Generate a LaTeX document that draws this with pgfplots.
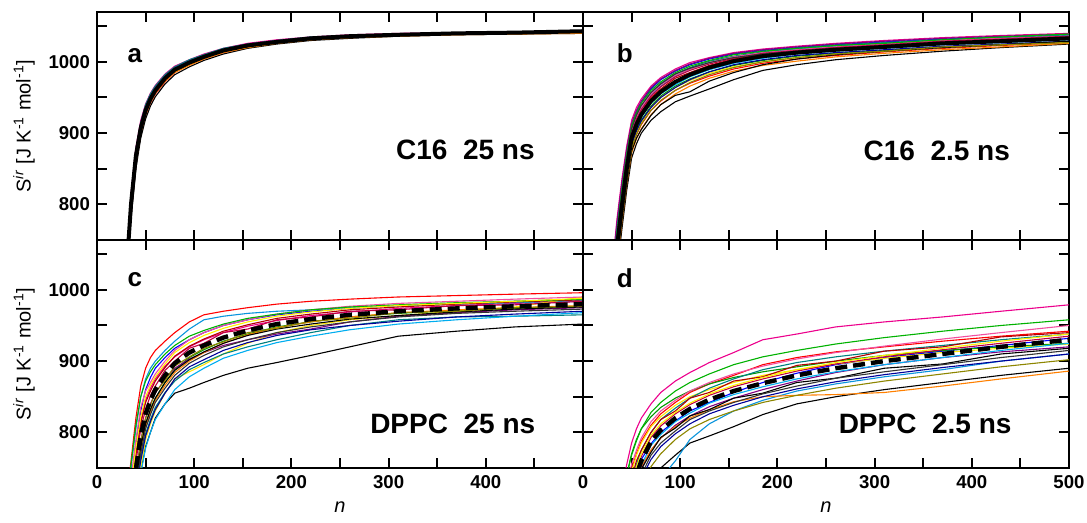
\documentclass[border=0pt]{standalone}
\usepackage{fontspec}
\setmainfont{Liberation Sans}
\usepackage{pgfplots}
\usepackage{pgfplotstable}
\pgfplotsset{compat=1.18}
\usepgfplotslibrary{groupplots}

% panel a: C16 25 ns
\pgfplotstableread{
n   m    c1   c2   c3   c4   c5   c6   c7   c8   c9   c10
30  700  690  705  695  710  685  700  698  703  692  707
35  800  785  810  795  815  780  805  798  808  790  812
40  868  855  875  862  880  850  870  865  874  858  878
45  907  898  914  902  918  893  909  905  912  900  915
50  932  925  938  928  941  920  934  930  937  926  940
55  948  942  953  945  956  938  950  946  952  943  955
60  960  955  965  957  967  951  962  958  964  956  966
70  977  972  981  974  983  969  978  975  980  973  982
80  989  985  992  986  994  982  990  987  991  985  993
95  999  996  1002 997  1003 993  1000 998  1001 995  1003
110 1007 1004 1010 1005 1011 1002 1008 1006 1009 1004 1010
130 1016 1013 1018 1014 1019 1011 1016 1015 1018 1013 1019
155 1023 1020 1025 1021 1026 1019 1023 1022 1025 1020 1025
185 1028 1026 1030 1027 1031 1025 1029 1027 1030 1026 1030
220 1033 1031 1034 1032 1035 1030 1033 1032 1034 1031 1035
260 1036 1034 1037 1035 1038 1033 1036 1035 1037 1034 1037
310 1038 1037 1039 1037 1040 1036 1038 1038 1039 1036 1039
370 1040 1039 1041 1039 1041 1038 1040 1040 1041 1038 1041
430 1041 1040 1042 1040 1042 1039 1041 1041 1042 1039 1042
500 1043 1042 1044 1041 1044 1040 1043 1042 1044 1040 1044
}\tabA

% panel b: C16 2.5 ns
\pgfplotstableread{
n   m    c1   c2   c3   c4   c5   c6   c7   c8   c9   c10
30  680  660  700  670  710  650  690  675  705  665  695
35  740  720  770  735  780  705  760  730  775  715  765
40  797  780  825  790  835  765  815  785  830  775  820
45  850  832  875  845  882  820  865  838  878  828  870
50  893  878  910  888  918  865  902  882  914  872  906
55  912  898  930  905  936  885  920  900  932  892  925
60  926  912  943  918  948  900  934  915  945  906  938
70  945  932  962  938  966  918  954  936  964  926  957
80  958  945  975  952  978  930  966  950  976  940  970
95  972  960  987  966  990  944  980  964  988  955  983
110 982  970  996  976  999  952  990  974  997  966  992
130 992  980  1004 986  1006 962  999  984  1005 977  1001
155 1001 990  1011 995  1013 975  1007 993  1012 987  1008
185 1008 998  1016 1002 1018 988  1013 1000 1017 995  1014
220 1013 1004 1020 1008 1022 996  1018 1006 1021 1001 1019
260 1017 1009 1024 1012 1026 1003 1022 1011 1025 1007 1023
310 1021 1014 1028 1016 1030 1009 1026 1015 1029 1012 1027
370 1026 1019 1032 1021 1034 1015 1030 1020 1033 1017 1031
430 1029 1023 1035 1024 1037 1020 1033 1024 1036 1021 1034
500 1033 1027 1039 1028 1040 1025 1037 1028 1039 1026 1038
}\tabB

\pgfplotstableread{
n   c1   c2   c3   c4   c5   c6   c7   c8   c9   c10
30  695  672  688  665  700  678  690  668  682  698
35  755  730  746  722  760  737  750  726  742  757
40  812  787  803  778  820  793  808  782  799  815
45  862  840  856  830  870  846  858  835  853  866
50  903  884  898  875  910  890  900  879  892  906
55  922  903  918  893  928  908  919  898  914  925
60  936  917  930  905  942  922  933  913  925  939
70  955  936  950  925  960  942  952  932  947  957
80  968  950  962  940  972  955  965  946  957  969
95  981  964  977  953  985  968  979  960  973  983
110 990  975  985  958  994  979  988  971  981  991
130 999  986  995  973  1002 989  997  982  993  999
155 1007 996  1004 985  1010 998  1005 992  1000 1006
185 1013 1003 1011 996  1015 1005 1012 1000 1009 1011
220 1017 1009 1015 1004 1019 1011 1016 1006 1012 1015
260 1021 1013 1020 1010 1023 1015 1020 1011 1018 1019
310 1025 1017 1023 1015 1026 1019 1024 1015 1020 1022
370 1030 1022 1028 1020 1031 1024 1029 1021 1027 1027
430 1033 1025 1031 1024 1035 1027 1032 1024 1028 1030
500 1036 1029 1035 1029 1039 1031 1036 1027 1034 1034
}\tabBB

% panel c: DPPC 25 ns
\pgfplotstableread{
n   m    c1   c2   c3   c4   c5   c6   c7   c8   c9   c10
30  650  700  670  640  660  600  690  620  645  635  630
35  700  760  725  690  715  650  750  665  695  685  675
40  748  820  780  735  770  700  805  710  742  730  720
45  795  865  830  780  815  745  850  750  788  775  765
50  826  890  860  812  845  780  875  790  820  808  798
55  845  905  877  832  862  800  890  812  840  828  818
60  860  915  890  848  875  820  900  830  855  845  835
70  880  928  905  870  893  840  915  855  875  866  856
80  897  940  918  888  906  855  928  875  890  884  872
95  912  955  930  905  920  862  945  885  903  900  888
110 922  965  940  916  930  870  958  895  912  912  898
130 933  970  950  928  940  880  963  910  922  925  910
155 943  975  958  938  949  890  967  925  930  937  920
185 952  980  965  948  957  898  970  940  938  947  930
220 959  984  970  955  964  908  972  950  945  955  940
260 965  987  974  962  969  920  975  958  955  962  950
310 970  990  978  967  974  935  978  964  963  968  958
370 974  992  981  971  978  942  980  970  968  972  962
430 977  994  984  974  981  948  982  976  972  975  963
500 980  996  987  977  984  952  985  990  975  978  965
}\tabC

\pgfplotstableread{
n   c1   c2   c3   c4   c5   c6   c7   c8   c9   c10
30  680  620  665  640  700  610  655  645  672  630
35  735  670  718  688  755  655  708  694  725  680
40  790  715  768  735  810  700  758  740  778  725
45  835  760  812  780  850  742  805  788  822  770
50  858  795  842  812  872  778  832  820  850  805
55  870  815  858  832  885  800  852  838  866  825
60  882  832  872  848  895  818  865  856  878  842
70  900  855  891  870  910  840  887  873  896  862
80  915  875  907  887  922  860  900  893  912  880
95  930  892  921  902  935  878  918  906  926  897
110 940  902  931  913  943  890  925  918  936  908
130 950  915  942  925  952  904  940  927  946  920
155 958  926  951  936  960  915  945  940  955  930
185 966  936  960  945  966  926  958  946  963  940
220 972  944  966  952  972  935  962  956  969  948
260 977  950  972  959  976  944  970  960  974  955
310 981  956  976  964  979  952  972  968  978  962
370 984  962  980  969  982  958  978  970  981  967
430 987  966  983  973  984  963  979  975  984  970
500 990  970  986  976  987  968  984  977  988  973
}\tabCC

% panel d: DPPC 2.5 ns
\pgfplotstableread{
n   m    c1   c2   c3   c4   c5   c6   c7   c8   c9   c10
30  600  620  605  630  640  560  560  615  595  600  610
35  630  655  635  670  680  590  585  650  625  630  642
40  660  690  665  708  720  620  610  685  655  660  675
45  690  722  695  740  755  650  635  718  685  690  706
50  715  748  722  770  785  675  655  745  710  712  732
55  740  770  745  790  805  695  672  768  732  735  755
60  760  788  762  805  820  712  690  785  750  752  775
70  787  810  784  822  840  735  715  808  775  775  800
80  803  826  800  835  856  750  735  822  792  792  818
95  820  842  816  848  872  768  760  838  810  808  834
110 833  856  830  858  884  785  790  850  823  820  848
130 846  868  842  868  898  795  812  860  836  832  862
155 858  880  856  877  912  808  830  870  848  843  875
185 869  895  870  885  930  825  845  880  860  850  888
220 880  905  883  892  938  840  858  888  872  852  898
260 890  913  895  900  948  850  868  896  884  853  906
310 900  920  905  908  955  860  878  904  895  856  914
370 910  928  914  915  962  870  888  912  905  865  922
430 920  935  922  920  970  880  900  918  913  875  930
500 930  942  932  925  979  890  910  924  920  886  938
}\tabD

\pgfplotstableread{
n   c1   c2   c3   c4   c5   c6   c7   c8   c9   c10
30  625  575  615  585  635  595  605  565  610  580
35  660  605  647  617  672  625  635  595  640  610
40  695  635  680  648  708  655  665  625  672  640
45  728  665  712  676  740  685  695  655  702  670
50  755  690  735  705  768  710  722  680  728  695
55  775  715  760  725  788  735  746  705  752  720
60  792  735  775  748  805  754  766  725  770  740
70  815  762  800  772  828  782  793  752  796  768
80  830  780  818  793  842  797  809  770  812  785
95  845  798  830  806  858  815  826  790  828  802
110 858  812  848  823  870  827  839  805  841  818
130 870  826  856  832  882  841  852  818  854  830
155 882  838  872  848  895  853  864  830  866  842
185 893  850  878  855  906  864  875  842  877  854
220 903  861  894  870  915  875  886  852  888  865
260 912  871  900  876  924  885  896  862  898  876
310 921  881  914  890  933  895  906  872  908  885
370 931  891  920  896  942  905  916  882  918  895
430 940  900  934  910  950  915  925  892  928  905
500 950  910  940  918  958  925  935  902  938  915
}\tabDD

\newcommand\bundle[1]{%
  \addplot[red] table[x=n,y=c1]{#1};
  \addplot[blue] table[x=n,y=c2]{#1};
  \addplot[green!60!black] table[x=n,y=c3]{#1};
  \addplot[magenta] table[x=n,y=c4]{#1};
  \addplot[black] table[x=n,y=c5]{#1};
  \addplot[cyan!80!blue] table[x=n,y=c6]{#1};
  \addplot[yellow!90!orange] table[x=n,y=c7]{#1};
  \addplot[violet] table[x=n,y=c8]{#1};
  \addplot[orange] table[x=n,y=c9]{#1};
  \addplot[teal] table[x=n,y=c10]{#1};
}
\newcommand\bundleb[1]{%
  \addplot[magenta!60!pink] table[x=n,y=c1]{#1};
  \addplot[blue!60!black] table[x=n,y=c2]{#1};
  \addplot[red!70!black] table[x=n,y=c3]{#1};
  \addplot[black] table[x=n,y=c4]{#1};
  \addplot[green!70!black] table[x=n,y=c5]{#1};
  \addplot[cyan] table[x=n,y=c6]{#1};
  \addplot[purple] table[x=n,y=c7]{#1};
  \addplot[olive] table[x=n,y=c8]{#1};
  \addplot[yellow] table[x=n,y=c9]{#1};
  \addplot[black!80] table[x=n,y=c10]{#1};
}

\pgfplotsset{
  panel/.style={
    width=243pt, height=114pt, scale only axis,
    xmin=0, xmax=500, ymin=750, ymax=1070,
    xtick={0,100,200,300,400,500}, minor xtick={50,150,250,350,450},
    ytick={800,900,1000}, minor ytick={850,950,1050},
    tick align=inside, major tick length=5pt, minor tick length=5pt,
    tick style={black, line width=1pt},
    axis line style={line width=1.1pt},
    tick label style={font=\bfseries\fontsize{9.3}{11}\selectfont},
    /pgf/number format/assume math mode=true,
    /pgf/number format/1000 sep={},
    every axis plot/.append style={line width=0.55pt, no markers},
    label style={font=\fontsize{10}{12}\selectfont},
  },
}
\tikzset{
  meanline/.style={black, line width=2pt},
  meandash/.style={black, line width=2.2pt, dash pattern=on 6pt off 3pt},
  ptxt/.style={font=\bfseries\fontsize{14}{16}\selectfont},
  plet/.style={font=\bfseries\fontsize{13}{15}\selectfont},
}

\begin{document}
\begin{tikzpicture}
\begin{groupplot}[group style={group size=2 by 2, horizontal sep=0pt, vertical sep=0pt}, panel]
\nextgroupplot[xticklabels={}, ylabel={S\textsuperscript{\textit{ir}} [J K\textsuperscript{-1} mol\textsuperscript{-1}]}]
\bundle{\tabA}
\addplot[meanline] table[x=n,y=m]{\tabA};
\node[plet] at (axis cs:39,1009) {a};
\node[ptxt] at (axis cs:379,877) {C16\ \ 25 ns};

\nextgroupplot[xticklabels={}, yticklabels={}]
\bundle{\tabB}
\bundleb{\tabBB}
\addplot[meanline] table[x=n,y=m]{\tabB};
\node[plet] at (axis cs:43,1012) {b};
\node[ptxt] at (axis cs:364,875) {C16\ \ 2.5 ns};

\nextgroupplot[xticklabels={0,100,200,300,400,{}}, xlabel={\textit{n}}, ylabel={S\textsuperscript{\textit{ir}} [J K\textsuperscript{-1} mol\textsuperscript{-1}]}]
\bundle{\tabC}
\bundleb{\tabCC}
\addplot[meandash] table[x=n,y=m]{\tabC};
\node[plet] at (axis cs:39,1014) {c};
\node[ptxt] at (axis cs:366,812) {DPPC\ \ 25 ns};

\nextgroupplot[yticklabels={}, xlabel={\textit{n}}]
\bundle{\tabD}
\bundleb{\tabDD}
\addplot[meandash] table[x=n,y=m]{\tabD};
\node[plet] at (axis cs:43,1017) {d};
\node[ptxt] at (axis cs:352,812) {DPPC\ \ 2.5 ns};
\end{groupplot}
\pgfresetboundingbox
\path (group c1r1.north west) ++(-48.5pt,6pt) rectangle ++(543.5pt,-261.5pt);
\end{tikzpicture}
\end{document}
